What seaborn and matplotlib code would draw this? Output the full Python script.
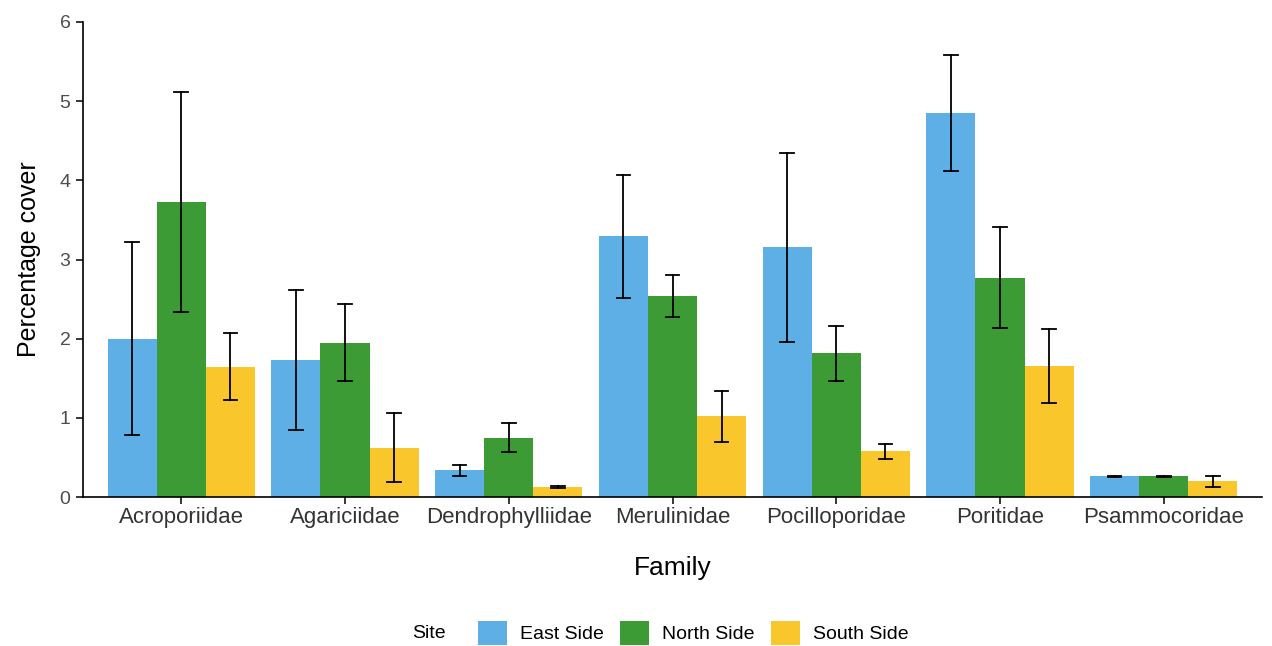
import matplotlib
matplotlib.use("Agg")
import matplotlib.pyplot as plt
import seaborn as sns
import pandas as pd

families = ["Acroporiidae", "Agariciidae", "Dendrophylliidae", "Merulinidae",
            "Pocilloporidae", "Poritidae", "Psammocoridae"]
sites = ["East Side", "North Side", "South Side"]

east_mean = [2.00, 1.73, 0.335, 3.295, 3.155, 4.85, 0.26]
east_se = [1.22, 0.88, 0.065, 0.775, 1.195, 0.73, 0.005]
north_mean = [3.73, 1.95, 0.75, 2.535, 1.815, 2.77, 0.26]
north_se = [1.39, 0.49, 0.18, 0.265, 0.345, 0.64, 0.005]
south_mean = [1.645, 0.625, 0.13, 1.02, 0.575, 1.655, 0.20]
south_se = [0.425, 0.43, 0.01, 0.32, 0.095, 0.465, 0.07]

site_colors = ["#5DAFE6", "#3D9B35", "#F9C62B"]

rows = []
for site, means, ses in zip(sites, [east_mean, north_mean, south_mean],
                            [east_se, north_se, south_se]):
    for fam, m, s in zip(families, means, ses):
        rows.append({"Family": fam, "Site": site, "Percentage cover": m - s})
        rows.append({"Family": fam, "Site": site, "Percentage cover": m + s})
df = pd.DataFrame(rows)

plt.rcParams["font.family"] = ["Liberation Sans", "DejaVu Sans"]

fig = plt.figure(figsize=(12.72, 6.46), dpi=100)
ax = fig.add_axes([83 / 1272, 1 - 497 / 646, (1262 - 83) / 1272, (497 - 22) / 646])

sns.barplot(data=df, x="Family", y="Percentage cover", hue="Site",
            order=families, hue_order=sites, palette=site_colors,
            estimator="mean", errorbar=("pi", 100), capsize=0.25,
            err_kws={"color": "black", "linewidth": 1.3},
            width=0.9, saturation=1, linewidth=0, ax=ax)

handles, labels = ax.get_legend_handles_labels()
if ax.get_legend() is not None:
    ax.get_legend().remove()

ax.set_xlim(-0.6, 6.6)
ax.set_ylim(0, 6)
ax.set_yticks([0, 1, 2, 3, 4, 5, 6])
ax.set_yticklabels(["0", "1", "2", "3", "4", "5", "6"])
for sp in ["top", "right"]:
    ax.spines[sp].set_visible(False)
for sp in ["left", "bottom"]:
    ax.spines[sp].set_linewidth(1.2)
    ax.spines[sp].set_color("black")
ax.tick_params(axis="x", labelsize=16, colors="#333333", length=5, width=1.1, pad=2)
ax.tick_params(axis="y", labelsize=14, colors="#4D4D4D", length=5, width=1.1, pad=4)
ax.tick_params(axis="both", color="black")
ax.set_xlabel("Family", fontsize=19, color="black", labelpad=20)
ax.set_ylabel("Percentage cover", fontsize=18, color="black", labelpad=13)
ax.grid(False)
ax.set_facecolor("white")

fig.legend(handles, labels, loc="center", bbox_to_anchor=(693 / 1272, 13 / 646),
           ncol=3, frameon=False, fontsize=14, handlelength=1.5, handleheight=1.6,
           handletextpad=0.65, columnspacing=0.85, borderpad=0.2)
fig.text(429 / 1272, 12 / 646, "Site", fontsize=14, ha="center", va="center")

fig.savefig("out.png", dpi=100, facecolor="white")
